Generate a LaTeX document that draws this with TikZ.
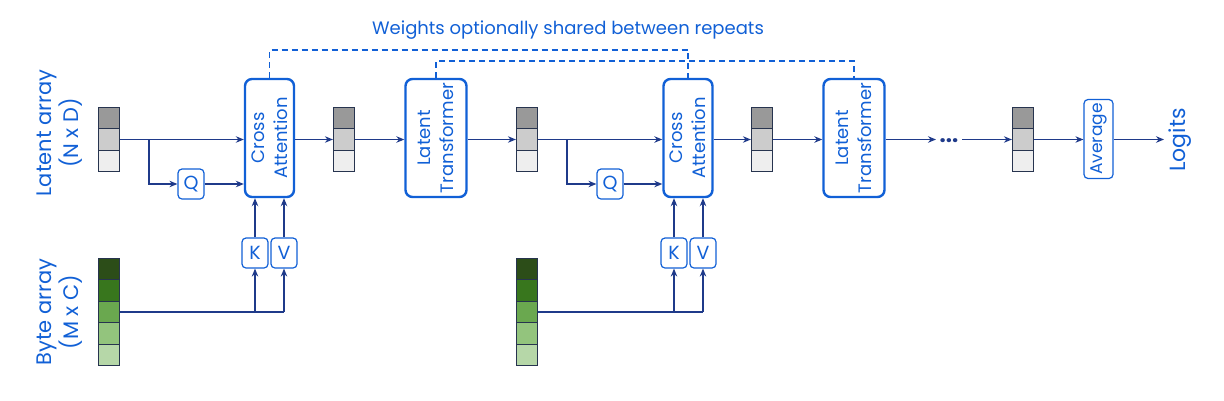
\documentclass[tikz,border=0pt]{standalone}
\usepackage{fontspec}
\setmainfont{Poppins}
\usetikzlibrary{arrows.meta}
\definecolor{tblue}{HTML}{1160D6}
\definecolor{navy}{HTML}{1F3A8A}
\definecolor{cedge}{HTML}{27344F}
\definecolor{gA}{HTML}{999999}
\definecolor{gB}{HTML}{CCCCCC}
\definecolor{gC}{HTML}{EEEEEE}
\definecolor{bA}{HTML}{2C4D18}
\definecolor{bB}{HTML}{38761D}
\definecolor{bC}{HTML}{6AA84F}
\definecolor{bD}{HTML}{93C47D}
\definecolor{bE}{HTML}{B6D7A8}
\tikzset{
  cell/.style={draw=cedge, line width=1.2pt, minimum width=21pt, minimum height=21.5pt, inner sep=0pt},
  bigbox/.style={draw=tblue, line width=2.4pt, rounded corners=7pt, minimum width=49pt, minimum height=118pt, inner sep=0pt},
  smallbox/.style={draw=tblue, line width=1.2pt, rounded corners=4pt, inner sep=0pt, text=tblue, font=\fontsize{19}{19}\selectfont},
  arr/.style={draw=navy, line width=1.2pt, -{Stealth[length=8pt,width=6.5pt]}},
  ln/.style={draw=navy, line width=1.2pt},
  dsh/.style={draw=tblue, line width=1.4pt, dash pattern=on 6pt off 4pt},
  vtext/.style={rotate=90, text=tblue, align=center},
}
\begin{document}
\begin{tikzpicture}[x=1pt,y=-1pt]
\useasboundingbox (0,0) rectangle (1224,400);
% labels
\node[vtext, font=\fontsize{21}{27}\selectfont] (lablat) at (60,133) {Latent array\\(N x D)};
\node[vtext, font=\fontsize{21}{27}\selectfont] (labbyte) at (60,312) {Byte array\\(M x C)};
\node[text=tblue, font=\fontsize{18}{18}\selectfont] (title) at (568,30) {Weights optionally shared between repeats};
% latent arrays
\foreach \n/\x in {1/109,2/344,3/527,4/762,5/1023}{
  \node[cell, fill=gA] (l\n a) at (\x,118) {};
  \node[cell, fill=gB] (l\n b) at (\x,139.5) {};
  \node[cell, fill=gC] (l\n c) at (\x,161) {};
}
% byte arrays
\foreach \n/\x in {1/109,2/527}{
  \node[cell, fill=bA] (b\n a) at (\x,269) {};
  \node[cell, fill=bB] (b\n b) at (\x,290.5) {};
  \node[cell, fill=bC] (b\n c) at (\x,312) {};
  \node[cell, fill=bD] (b\n d) at (\x,333.5) {};
  \node[cell, fill=bE] (b\n e) at (\x,355) {};
}
% big boxes
\node[bigbox] (ca1) at (269.5,138) {};
\node[vtext, font=\fontsize{18}{23}\selectfont] at (ca1.center) {Cross\\Attention};
\node[bigbox, minimum width=61pt] (lt1) at (436,138) {};
\node[vtext, font=\fontsize{18}{23}\selectfont] at (lt1.center) {Latent\\Transformer};
\node[bigbox] (ca2) at (688,138) {};
\node[vtext, font=\fontsize{18}{23}\selectfont] at (ca2.center) {Cross\\Attention};
\node[bigbox, minimum width=61pt] (lt2) at (854,138) {};
\node[vtext, font=\fontsize{18}{23}\selectfont] at (lt2.center) {Latent\\Transformer};
% small boxes
\node[smallbox, minimum width=26pt, minimum height=30pt] (q1) at (191,184) {Q};
\node[smallbox, minimum width=26pt, minimum height=30pt] (k1) at (255,253) {K};
\node[smallbox, minimum width=26pt, minimum height=30pt] (v1) at (284,253) {V};
\node[smallbox, minimum width=26pt, minimum height=30pt] (q2) at (610,184) {Q};
\node[smallbox, minimum width=26pt, minimum height=30pt] (k2) at (674,253) {K};
\node[smallbox, minimum width=26pt, minimum height=30pt] (v2) at (703,253) {V};
\node[smallbox, minimum width=29pt, minimum height=79pt] (avg) at (1098.5,139) {};
\node[vtext, font=\fontsize{17}{17}\selectfont] at (avg.center) {Average};
\node[vtext, font=\fontsize{22}{22}\selectfont] (logits) at (1180,140) {Logits};
\node[text=navy, font=\fontsize{22}{22}\selectfont\bfseries, inner sep=0pt, anchor=base] (dots) at (949,142) {...};
\coordinate (dotsin) at (936,139.5);
\coordinate (dotsout) at (962,139.5);
\coordinate (login) at (1164,139.5);
% repeat 1 connections
\coordinate (br1) at (149,139.5);
\draw[arr] (l1b.east) -- (ca1.west |- l1b.east);
\draw[arr] (br1) |- (q1.west);
\draw[arr] (q1.east) -- (ca1.west |- q1.east);
\draw[arr] (k1.north) -- (k1.north |- ca1.south);
\draw[arr] (v1.north) -- (v1.north |- ca1.south);
\coordinate (bl1) at (284,312);
\draw[ln] (b1c.east) -- (bl1);
\draw[arr] (k1.south |- bl1) -- (k1.south);
\draw[arr] (bl1) -- (v1.south);
\draw[arr] (ca1.east |- l2b.west) -- (l2b.west);
\draw[arr] (l2b.east) -- (lt1.west |- l2b.east);
\draw[arr] (lt1.east |- l3b.west) -- (l3b.west);
% repeat 2 connections
\coordinate (br2) at (567,139.5);
\draw[arr] (l3b.east) -- (ca2.west |- l3b.east);
\draw[arr] (br2) |- (q2.west);
\draw[arr] (q2.east) -- (ca2.west |- q2.east);
\draw[arr] (k2.north) -- (k2.north |- ca2.south);
\draw[arr] (v2.north) -- (v2.north |- ca2.south);
\coordinate (bl2) at (703,312);
\draw[ln] (b2c.east) -- (bl2);
\draw[arr] (k2.south |- bl2) -- (k2.south);
\draw[arr] (bl2) -- (v2.south);
\draw[arr] (ca2.east |- l4b.west) -- (l4b.west);
\draw[arr] (l4b.east) -- (lt2.west |- l4b.east);
\draw[arr] (lt2.east |- l4b.east) -- (dotsin);
\draw[arr] (dotsout) -- (l5b.west);
\draw[arr] (l5b.east) -- (avg.west |- l5b.east);
\draw[arr] (avg.east |- l5b.east) -- (login);
% dashed sharing lines
\draw[dsh] (ca1.north) -- ++(0,-28) -| (ca2.north);
\draw[dsh] (lt1.north) -- ++(0,-17) -| (lt2.north);
\end{tikzpicture}
\end{document}
